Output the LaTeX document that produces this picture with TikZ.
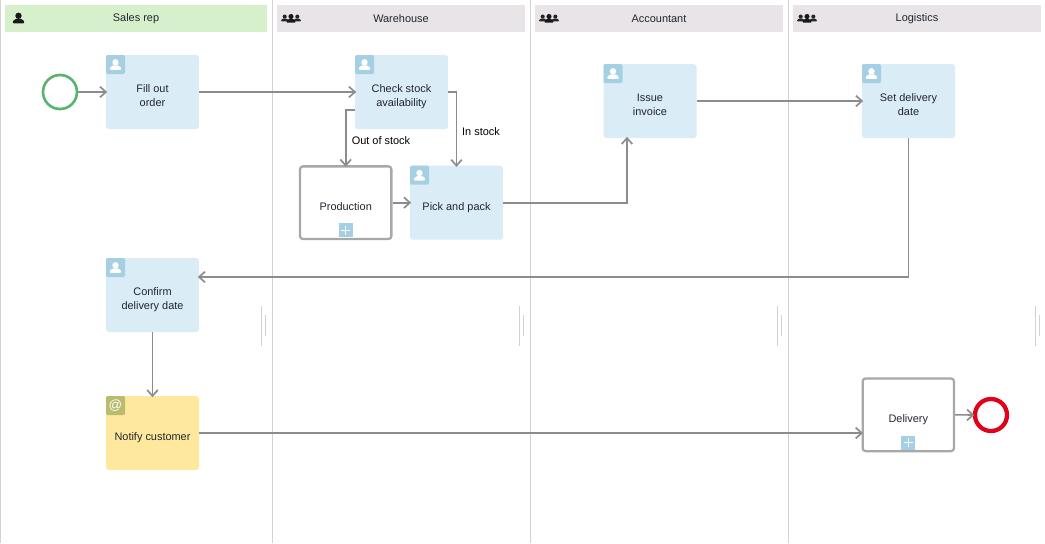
\documentclass[tikz,border=0pt]{standalone}
\usepackage{fontspec}
\setmainfont{Liberation Sans}
\usetikzlibrary{arrows.meta,calc}
\definecolor{taskblue}{HTML}{DAECF6}
\definecolor{iconblue}{HTML}{A5D0E3}
\definecolor{notifyy}{HTML}{FEE89D}
\definecolor{iconolive}{HTML}{B9BC6C}
\definecolor{headgreen}{HTML}{D6F0CC}
\definecolor{headgrey}{HTML}{E8E4E8}
\definecolor{lanegrey}{HTML}{D2D2D2}
\definecolor{linegrey}{HTML}{8C8C8C}
\definecolor{subgrey}{HTML}{A8A8A8}
\definecolor{txt}{HTML}{22262E}
\definecolor{startgreen}{HTML}{58B46E}
\definecolor{stopred}{HTML}{E2001A}
\tikzset{
  x=0.75pt,y=-0.75pt,
  label text/.style={font=\fontsize{8.2pt}{10.6pt}\selectfont,text=txt,align=center,inner sep=0pt},
  taskbox/.style={rectangle,fill=taskblue,draw=none,minimum width=69.75pt,minimum height=55.5pt,inner sep=0pt,rounded corners=2.2pt,label text},
  notifybox/.style={taskbox,fill=notifyy},
  subbox/.style={taskbox,fill=white,draw=subgrey,line width=1.7pt,minimum width=68.5pt,minimum height=54.5pt},
  head/.style={rectangle,minimum height=20.25pt,inner sep=0pt,label text},
  flow/.style={draw=linegrey,line width=1.2pt,shorten >=-1.1pt,-{Straight Barb[length=4.5pt,width=8pt,line width=1.25pt]}},
  flowthick/.style={flow,line width=1.45pt},
  flowstub/.style={draw=linegrey,line width=1.5pt},
  lane/.style={draw=lanegrey,line width=0.75pt},
  iconsq/.style={rectangle,minimum size=14.25pt,inner sep=0pt,fill=iconblue,draw=none},
  edgelabel/.style={font=\fontsize{8.2pt}{10pt}\selectfont,text=black,inner sep=0pt},
  ev/.style={circle,fill=white,inner sep=0pt}
}
% text set about 5 px below the centre of its box
\newcommand{\ttxt}[1]{\raisebox{0pt}[\dimexpr\height+7.4pt][\depth]{\begin{tabular}{@{}c@{}}#1\end{tabular}}}
\newcommand{\personat}[4]{% x y scale colour
  \fill[#4] (#1,#2-2.2*#3) circle[radius=3.2*#3];
  \fill[#4,rounded corners=0.6pt] (#1-5.6*#3,#2+5.4*#3) -- (#1-5.6*#3,#2+3*#3) -- (#1-2.5*#3,#2+0.8*#3) -- (#1+2.5*#3,#2+0.8*#3) -- (#1+5.6*#3,#2+3*#3) -- (#1+5.6*#3,#2+5.4*#3) -- cycle;
}
\newcommand{\groupat}[2]{%
  \personat{#1-6.3}{#2}{0.64}{black!85}
  \personat{#1+6.3}{#2}{0.64}{black!85}
  \personat{#1}{#2+0.3}{0.8}{black!90}
}
\newcommand{\taskicon}[1]{%
  \node[iconsq,anchor=north west,rounded corners=1pt] (#1icon) at (#1.north west) {};
  \begin{scope}[shift={(#1icon.center)}]\personat{0}{0}{1}{white}\end{scope}
}
\newcommand{\plusicon}[1]{%
  \node[iconsq,minimum size=10.5pt,anchor=south] (#1plus) at ($(#1.south)+(0,-2.5)$) {};
  \draw[white,line width=0.9pt] ($(#1plus.center)+(-4.5,0)$) -- ($(#1plus.center)+(4.5,0)$) ($(#1plus.center)+(0,-4.5)$) -- ($(#1plus.center)+(0,4.5)$);
}
\begin{document}
\begin{tikzpicture}
\useasboundingbox (0,0) rectangle (1045,543);
\fill[white] (0,0) rectangle (1045,543);
% lanes
\foreach \x in {0.5,272,530,788} \draw[lane] (\x,0) -- (\x,543);
\foreach \x in {261,519,777,1035} {
  \draw[lane] (\x,306) -- (\x,346);
  \draw[lane] (\x+4,315) -- (\x+4,336);
}
% headers
\node[head,fill=headgreen,minimum width=196.5pt] (h1) at (136,18.5) {Sales rep};
\node[head,fill=headgrey,minimum width=186pt] (h2) at (401,18.5) {Warehouse};
\node[head,fill=headgrey,minimum width=186pt] (h3) at (659,18.5) {Accountant};
\node[head,fill=headgrey,minimum width=186pt] (h4) at (917,18.5) {Logistics};
\personat{18.5}{18}{1}{black!90}
\groupat{291}{18}
\groupat{549}{18}
\groupat{807}{18}
% events
\node[ev,draw=startgreen,line width=2pt,minimum size=25.5pt] (start) at (60,92) {};
\node[ev,draw=stopred,line width=3.2pt,minimum size=24pt] (stop) at (991,415) {};
% tasks
\node[taskbox] (fill) at (152.5,92) {\ttxt{Fill out\\order}};
\node[taskbox] (check) at (401.5,92) {\ttxt{Check stock\\availability}};
\node[subbox] (prod) at (345.7,202.7) {\ttxt{Production}};
\node[taskbox] (pick) at (456.5,202.7) {\ttxt{Pick and pack}};
\node[taskbox] (issue) at (650,101) {\ttxt{Issue\\invoice}};
\node[taskbox] (setd) at (908.5,101) {\ttxt{Set delivery\\date}};
\node[taskbox] (conf) at (152.5,295) {\ttxt{Confirm\\delivery date}};
\node[notifybox] (noti) at (152.5,433) {\ttxt{Notify customer}};
\node[subbox] (deli) at (908.3,414.8) {\ttxt{Delivery}};
\taskicon{fill}\taskicon{check}\taskicon{pick}\taskicon{issue}\taskicon{setd}\taskicon{conf}
\node[iconsq,fill=iconolive,anchor=north west,rounded corners=1pt] (notiicon) at (noti.north west) {};
\node[text=white,font=\fontsize{10pt}{10pt}\selectfont,inner sep=0pt] (notiat) at (notiicon.center) {@};
\plusicon{prod}
\plusicon{deli}
% connectors
\draw[flow] (start) -- (fill.west |- start);
\draw[flow] (fill) -- (check);
\draw[flowstub] (fill.east) -- ++(7,0);
\draw[flow] (check.east) -| (pick.north);
\draw[flowthick] ($(check.west)+(0,18)$) -| (prod.north);
\draw[flow] (prod) -- (pick);
\draw[flow] (pick.east) -| ($(issue.south)+(-23,0)$);
\draw[flow] (issue) -- (setd);
\draw[flowthick] (setd.south) |- ($(conf.east)+(0,-18)$);
\draw[flowthick] (conf) -- (noti);
\draw[flow] (noti.east) -- (noti.east -| deli.west);
\draw[flowstub] (noti.east) -- ++(36,0);
\draw[flowstub] (noti.east -| deli.west) -- ++(-35,0);
\draw[flow] (deli.east) -- (stop.west);
% edge labels
\node[edgelabel] (oos) at (381,140.5) {Out of stock};
\node[edgelabel] (ins) at (481,131.5) {In stock};
\end{tikzpicture}
\end{document}
